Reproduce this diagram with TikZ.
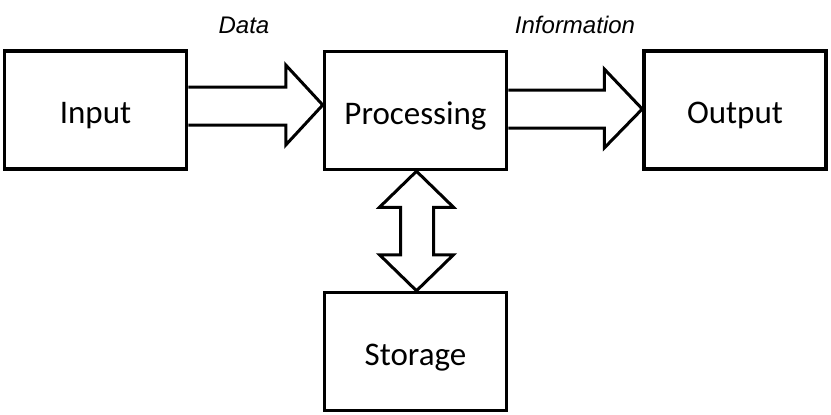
\documentclass[tikz,border=0pt]{standalone}
\usepackage{fontspec}
\setmainfont{Carlito}
\newfontfamily\lblfont{Liberation Sans}
\usetikzlibrary{calc}
\begin{document}
\begin{tikzpicture}[x=1pt,y=-1pt,
  blockbox/.style={draw,line width=3.5pt,minimum width=182pt,minimum height=118pt,inner sep=0pt,
    font=\fontsize{33}{38}\selectfont,text height=27pt,text depth=0pt},
  fatarrow/.style={draw,line width=3pt,fill=white,line join=miter},
  lbl/.style={font=\lblfont\itshape\fontsize{24}{28}\selectfont,inner sep=0pt}]
\useasboundingbox (0,0) rectangle (831,415);
\node[blockbox] (in) at (95.5,110) {Input};
\node[blockbox] (proc) at (415.5,110.5) {Processing};
\node[blockbox] (out) at (735,110) {Output};
\node[blockbox] (stor) at (415.5,351.5) {Storage};
% Input -> Processing
\draw[fatarrow] ($(in.east)+(0,-23)$) -- ($(proc.west)+(-37,-23.5)$) -- ($(proc.west)+(-37,-45.5)$)
  -- ($(proc.west)+(0,-5.5)$) -- ($(proc.west)+(-37,34.5)$) -- ($(proc.west)+(-37,14.5)$) -- ($(in.east)+(0,15)$);
% Processing -> Output
\draw[fatarrow] ($(proc.east)+(0,-20.5)$) -- ($(out.west)+(-38,-20)$) -- ($(out.west)+(-38,-41)$)
  -- ($(out.west)+(0,-1)$) -- ($(out.west)+(-38,38)$) -- ($(out.west)+(-38,18)$) -- ($(proc.east)+(0,17.5)$);
% Processing <-> Storage
\draw[fatarrow] ($(proc.south)+(1,0)$) -- ($(proc.south)+(38,36)$) -- ($(proc.south)+(18,36)$)
  -- ($(stor.north)+(18,-36)$) -- ($(stor.north)+(38,-36)$) -- ($(stor.north)+(1,0)$)
  -- ($(stor.north)+(-36,-36)$) -- ($(stor.north)+(-15,-36)$) -- ($(proc.south)+(-15,36)$)
  -- ($(proc.south)+(-36,36)$) -- cycle;
\node[lbl] (data) at (244,25) {Data};
\node[lbl] (info) at (575,25) {Information};
\end{tikzpicture}
\end{document}
